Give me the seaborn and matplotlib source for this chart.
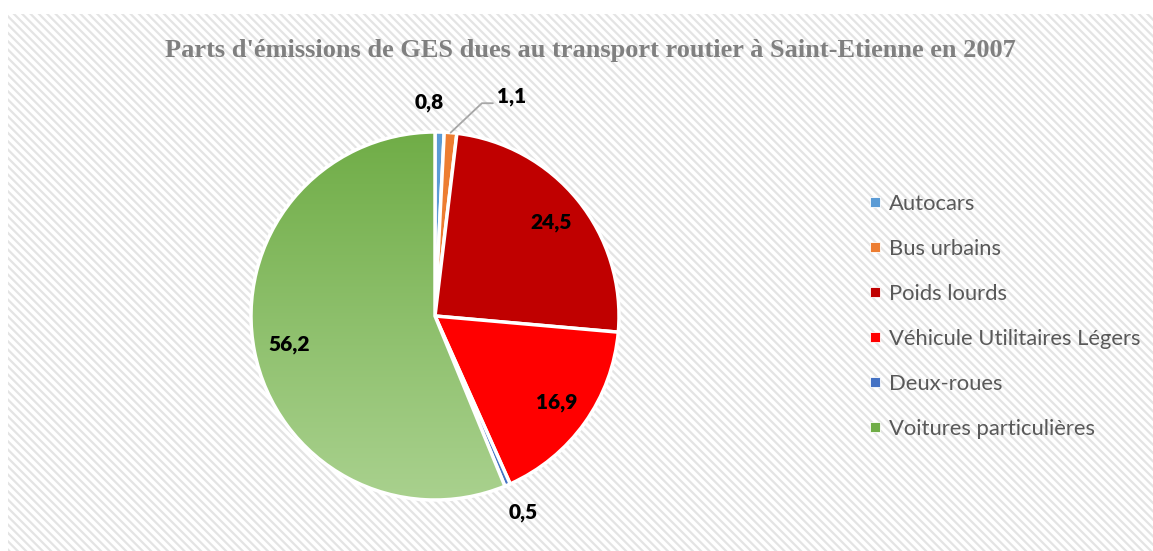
import numpy as np
import matplotlib
matplotlib.use("Agg")
import matplotlib.pyplot as plt
import seaborn as sns
from matplotlib.patches import Rectangle
from matplotlib.lines import Line2D
from matplotlib.colors import LinearSegmentedColormap

sns.set_style("white")
plt.rcParams['hatch.linewidth'] = 1.6

# data
categories = ["Autocars", "Bus urbains", "Poids lourds",
              "Véhicule Utilitaires Légers", "Deux-roues", "Voitures particulières"]
shares = [0.8, 1.1, 24.5, 16.9, 0.5, 56.2]
share_labels = ["0,8", "1,1", "24,5", "16,9", "0,5", "56,2"]
colors = ["#5B9BD5", "#ED7D31", "#C00000", "#FF0000", "#4472C4", "#70AD47"]

W, H = 1153, 551
fig = plt.figure(figsize=(W / 100, H / 100), dpi=100)

# hatched chart area background
bg = Rectangle((8 / W, 0), 1, 1 - 14 / H, transform=fig.transFigure,
               facecolor="white", edgecolor="#e4e4e4", hatch="\\\\\\\\", lw=0, zorder=-5)
fig.patches.append(bg)

# square axes so that radius 1 = 184 px, centred at (435, 316)
R = 184
cx, cy = 435, 316
half = 260
ax = fig.add_axes([(cx - half) / W, (H - cy - half) / H, 2 * half / W, 2 * half / H])
ax.set_zorder(2)
ax.axis("off")
ax.patch.set_alpha(0)

wedges, _ = ax.pie(shares, colors=colors, startangle=90, counterclock=False,
                   wedgeprops=dict(edgecolor="white", linewidth=2.5))

# vertical gradient on the big green slice
green = wedges[-1]
green.set_facecolor("none")
green.set_zorder(3)
cmap = LinearSegmentedColormap.from_list("g", ["#70AD47", "#A9D18E"])
grad = np.linspace(0, 1, 256).reshape(-1, 1)
im = ax.imshow(grad, cmap=cmap, extent=[-1, 1, -1, 1], origin="upper",
               aspect="auto", zorder=2)
im.set_clip_path(green)
ax.set_xlim(-half / R, half / R)
ax.set_ylim(-half / R, half / R)
ax.set_aspect("auto")

# data labels
lab_font = dict(family="Lato", weight="heavy", fontsize=15, color="black")
cum = np.cumsum([0] + shares)
for i, (w, lab) in enumerate(zip(wedges, share_labels)):
    mid = np.deg2rad(90 - (cum[i] + shares[i] / 2) * 3.6)
    if shares[i] > 5:
        r = 0.81
        ax.text(r * np.cos(mid), r * np.sin(mid), lab, ha="center", va="center", **lab_font)
    elif lab == "1,1":
        ex, ey = np.cos(mid), np.sin(mid)
        kx, ky = ex + 0.17, ey + 0.16
        tx = kx + 0.06
        ax.plot([ex, kx, tx], [ey, ky, ky], color="#a6a6a6", lw=1.3, zorder=4)
        ax.text(tx + 0.02, ky + 0.035, lab, ha="left", va="center", **lab_font)
    else:
        r = 1.16
        off = -0.06 if lab == "0,8" else 0.02
        ax.text(r * np.cos(mid) + off, r * np.sin(mid), lab, ha="center", va="center", **lab_font)

# title
fig.text(590 / W, 1 - 51 / H, "Parts d'émissions de GES dues au transport routier à Saint-Etienne en 2007",
         ha="center", va="center", family="Liberation Serif", weight="bold",
         fontsize=19, color="#808080")

# legend
handles = [Line2D([], [], marker="s", linestyle="none", markersize=6.5,
                  markerfacecolor=c, markeredgecolor="white", markeredgewidth=0.6)
           for c in colors]
leg = fig.legend(handles, categories, loc="upper left", bbox_to_anchor=(868 / W, 1 - 194 / H),
                 frameon=False, prop=dict(family="Lato", size=15.8), labelspacing=1.14,
                 handlelength=0.6, handletextpad=0.35, borderpad=0, borderaxespad=0)
for t in leg.get_texts():
    t.set_color("#595959")

fig.savefig("out.png", dpi=100)
